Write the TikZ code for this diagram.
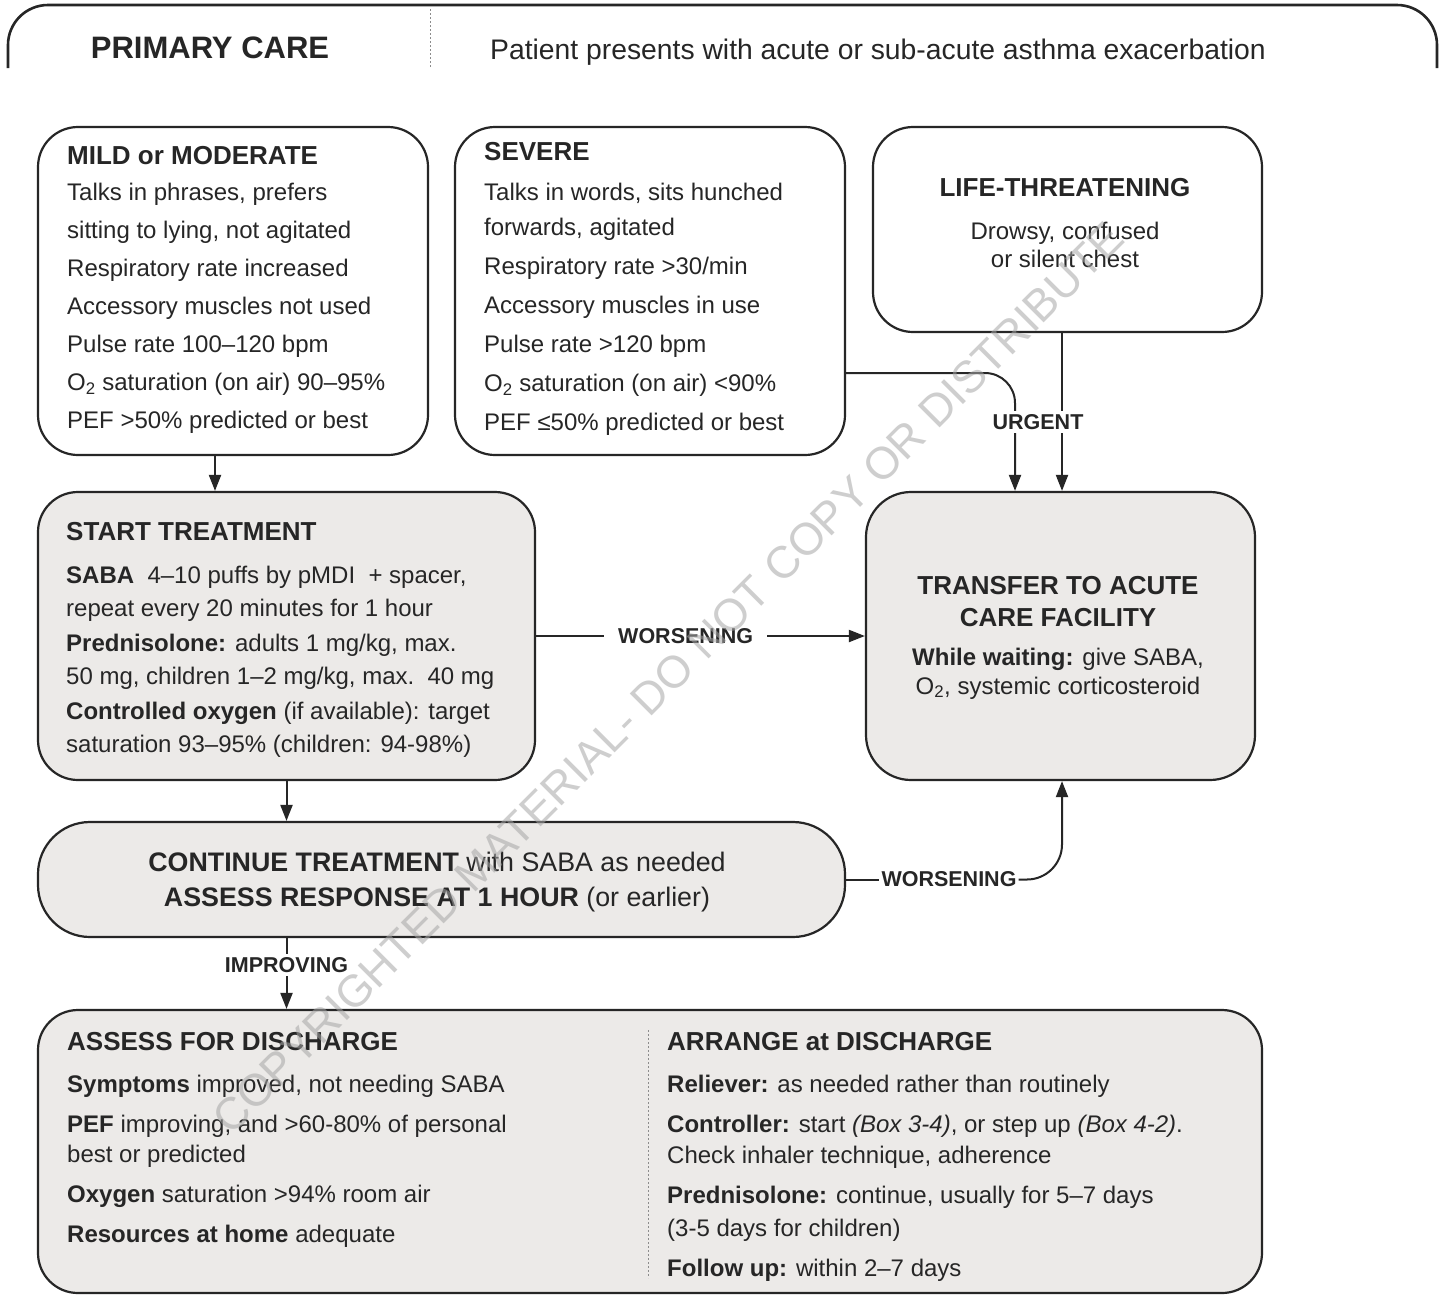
\documentclass[tikz,border=0pt]{standalone}
\usepackage{fontspec}
\setmainfont{Liberation Sans}
\usetikzlibrary{arrows.meta,calc}
\definecolor{boxgray}{RGB}{236,234,232}
\definecolor{ink}{RGB}{38,38,38}
\newcommand\boxtitle[1]{{\fontsize{26}{30}\selectfont\bfseries #1}}
\tikzset{
  box/.style={draw=ink, line width=2.2pt, rounded corners=40pt, inner sep=0pt},
  wbox/.style={box, fill=white},
  gbox/.style={box, fill=boxgray},
  txt/.style={inner sep=0pt, text=ink, align=left},
  ctxt/.style={inner sep=0pt, text=ink, align=center},
  lbl/.style={fill=white, inner sep=3pt, text=ink, font=\fontsize{21.5}{24}\selectfont\bfseries},
  conn/.style={draw=ink, line width=2pt},
  arr/.style={conn, -{Triangle[width=12pt,length=16pt]}},
  divider/.style={draw=black!45, line width=1pt, dash pattern=on 2pt off 2pt}
}
\begin{document}
\begin{tikzpicture}[x=1pt,y=-1pt]
\fill[white] (0,0) rectangle (1441,1296);
\useasboundingbox (0,0) rectangle (1441,1296);

% top banner (cut off at its bottom)
\draw[draw=ink, line width=2.6pt, rounded corners=40pt] (8,68) -- (8,5) -- (1437,5) -- (1437,68);
\draw[divider] (430,9) -- (430,68);
\node[inner sep=0pt, text=ink, font=\fontsize{31}{34}\selectfont\bfseries] (pc) at (210,48) {PRIMARY CARE};
\node[inner sep=0pt, text=ink, anchor=west, font=\fontsize{28.3}{32}\selectfont] (pp) at (490,52) {Patient presents with acute or sub-acute asthma exacerbation};

% boxes
\node[wbox, minimum width=390pt, minimum height=328pt] (mild) at (233,291) {};
\node[wbox, minimum width=390pt, minimum height=328pt] (sev) at (650,291) {};
\node[wbox, minimum width=389pt, minimum height=205pt] (life) at (1067.5,229.5) {};
\node[gbox, minimum width=497pt, minimum height=288pt] (start) at (286.5,636) {};
\node[gbox, rounded corners=45pt, minimum width=389pt, minimum height=288pt] (trans) at (1060.5,636) {};
\node[gbox, rounded corners=52pt, minimum width=807pt, minimum height=115pt] (cont) at (441.5,879.5) {};
\node[gbox, minimum width=1224pt, minimum height=283pt] (disc) at (650,1151.5) {};
\draw[divider] (648,1030) -- (648,1278);

% texts
\node[txt, anchor=north west, font=\fontsize{24}{38}\selectfont] (mildt) at (67,145.7) {%
\boxtitle{MILD or MODERATE}\\[-1.5pt]
Talks in phrases, prefers\\
sitting to lying, not agitated\\
Respiratory rate increased\\
Accessory muscles not used\\
Pulse rate 100–120 bpm\\
O\textsubscript{2} saturation (on air) 90–95\%\\
PEF >50\% predicted or best};

\node[txt, anchor=north west, font=\fontsize{24}{39}\selectfont] (sevt) at (484,141.7) {%
\boxtitle{SEVERE}\\[1.6pt]
Talks in words, sits hunched\\[-4pt]
forwards, agitated\\
Respiratory rate >30/min\\
Accessory muscles in use\\
Pulse rate >120 bpm\\
O\textsubscript{2} saturation (on air) <90\%\\
PEF ≤50\% predicted or best};

\node[ctxt, anchor=north, font=\fontsize{24}{28}\selectfont] (lifet) at (1065,177.7) {%
\boxtitle{LIFE-THREATENING}\\[15pt]
Drowsy, confused\\
or silent chest};

\node[txt, anchor=north west, font=\fontsize{24}{33}\selectfont] (startt) at (66,521.7) {%
\boxtitle{START TREATMENT}\\[10pt]
\textbf{SABA}\ \ 4–10 puffs by pMDI\ \ + spacer,\\
repeat every 20 minutes for 1 hour\\[2pt]
\textbf{Prednisolone:} adults 1 mg/kg, max.\\
50 mg, children 1–2 mg/kg, max.\ \ 40 mg\\[2pt]
\textbf{Controlled oxygen} (if available): target\\
saturation 93–95\% (children: 94-98\%)};

\node[ctxt, anchor=north, font=\fontsize{24}{30}\selectfont] (transt) at (1058,575.7) {%
\boxtitle{TRANSFER TO ACUTE}\\[2pt]
\boxtitle{CARE FACILITY}\\[9pt]
\textbf{While waiting:} give SABA,\\[-1pt]
O\textsubscript{2}, systemic corticosteroid};

\node[ctxt, anchor=north, font=\fontsize{26.8}{35}\selectfont] (contt) at (437,852) {%
\textbf{CONTINUE TREATMENT} with SABA as needed\\
\textbf{ASSESS RESPONSE AT 1 HOUR} (or earlier)};

\node[txt, anchor=north west, font=\fontsize{24}{30}\selectfont] (disct) at (67,1031.7) {%
\boxtitle{ASSESS FOR DISCHARGE}\\[12pt]
\textbf{Symptoms} improved, not needing SABA\\[10pt]
\textbf{PEF} improving, and >60-80\% of personal\\
best or predicted\\[10pt]
\textbf{Oxygen} saturation >94\% room air\\[10pt]
\textbf{Resources at home} adequate};

\node[txt, anchor=north west, font=\fontsize{24}{30}\selectfont] (arrt) at (667,1031.7) {%
\boxtitle{ARRANGE at DISCHARGE}\\[12pt]
\textbf{Reliever:} as needed rather than routinely\\[10pt]
\textbf{Controller:} start \textit{(Box 3-4)}, or step up \textit{(Box 4-2)}.\\[1pt]
Check inhaler technique, adherence\\[10pt]
\textbf{Prednisolone:} continue, usually for 5–7 days\\[3pt]
(3-5 days for children)\\[10pt]
\textbf{Follow up:} within 2–7 days};

% connectors
\draw[arr] ([xshift=-18pt]mild.south) -- ([xshift=-18pt]mild.south |- start.north);
\draw[arr] (start.south) -- (start.south |- cont.north);
\draw[arr] (start.east) -- node[lbl, pos=0.455, inner xsep=14pt] (w1) {WORSENING} (trans.west);
\draw[arr, rounded corners=30pt] ([yshift=-82pt]sev.east) -| ([xshift=-45.5pt]trans.north);
\draw[arr] ([xshift=1.5pt]trans.north |- life.south) -- ([xshift=1.5pt]trans.north);
\node[lbl] (urg) at (1038,422) {URGENT};
\node[lbl, fill=none, inner sep=2pt] (w2) at (949,879.5) {WORSENING};
\draw[conn] (cont.east) -- (w2.west);
\draw[arr, rounded corners=35pt] (w2.east) -| ([xshift=1.5pt]trans.south);
\draw[arr] (start.south |- cont.south) -- node[lbl, pos=0.38] (imp) {IMPROVING} (start.south |- disc.north);

% watermark
\node[rotate=45, text=black!35, opacity=0.55, inner sep=0pt, font=\fontsize{45}{45}\selectfont] (wm) at (668,678) {COPYRIGHTED MATERIAL- DO NOT COPY OR DISTRIBUTE};
\end{tikzpicture}
\end{document}
